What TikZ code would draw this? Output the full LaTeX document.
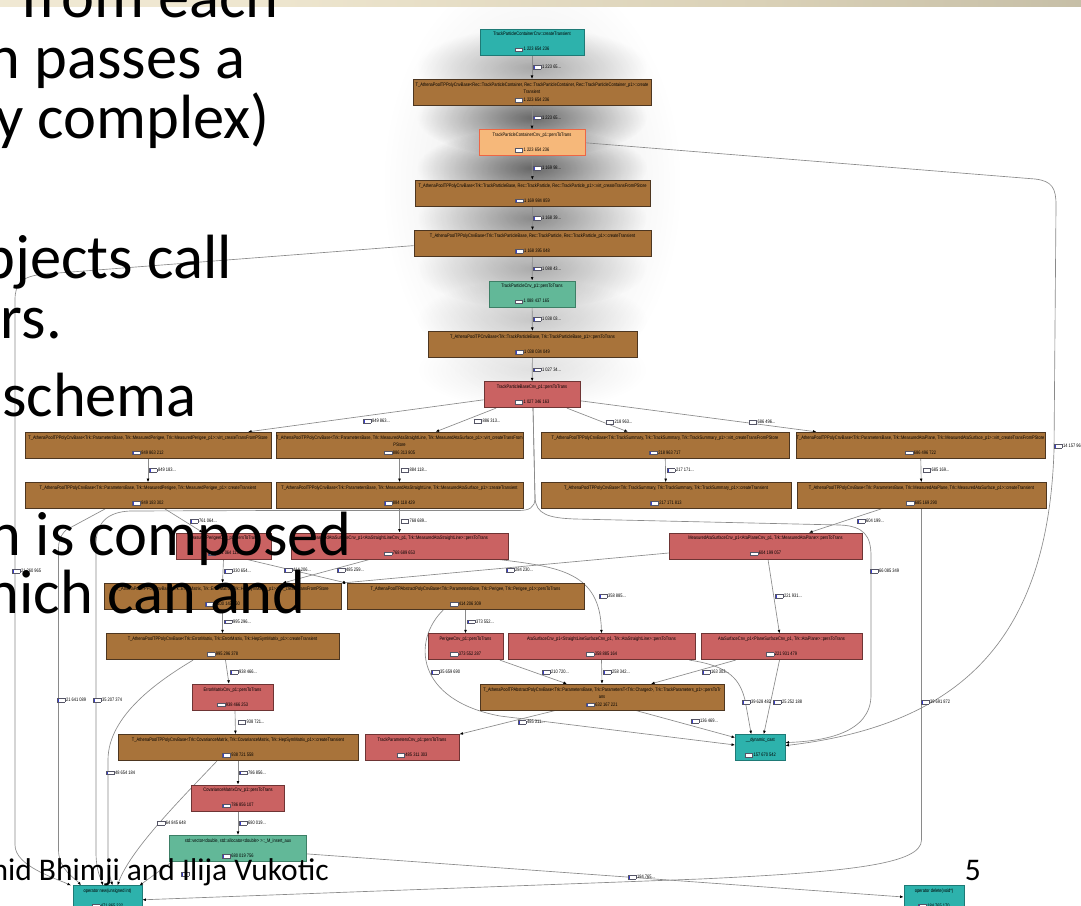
\documentclass[tikz,border=0pt]{standalone}
\usepackage{fontspec}
\setmainfont{Liberation Sans}
\newfontfamily\gf[FakeStretch=0.8]{Liberation Sans}
\newfontfamily\slf{Carlito}
\usetikzlibrary{arrows.meta,fadings}
\definecolor{cTeal}{HTML}{2DB2AC}
\definecolor{cTealD}{HTML}{1E7A76}
\definecolor{cMint}{HTML}{62B898}
\definecolor{cMintD}{HTML}{3D7F66}
\definecolor{cBrown}{HTML}{A8733A}
\definecolor{cBrownD}{HTML}{4D3620}
\definecolor{cRed}{HTML}{CA6262}
\definecolor{cRedD}{HTML}{6E3434}
\definecolor{cOrange}{HTML}{F6B87A}
\definecolor{cOrangeD}{HTML}{EE6644}
\definecolor{cEdge}{HTML}{8A8A8A}
\definecolor{icBlue}{HTML}{3A3FD0}
\definecolor{icB}{HTML}{555566}
\definecolor{bnA}{HTML}{F4EEDD}
\definecolor{bnB}{HTML}{EEE6CF}
\definecolor{bnC}{HTML}{DAD1B7}
\definecolor{bnD}{HTML}{A5A08B}
\pgfdeclarehorizontalshading{banner}{100bp}{color(0bp)=(bnA); color(37bp)=(bnB); color(60bp)=(bnC); color(100bp)=(bnD)}
\tikzfading[name=fz, inner color=transparent!0, outer color=transparent!100]
\pgfdeclarelayer{glow}
\pgfdeclarelayer{edges}
\pgfdeclarelayer{front}
\pgfsetlayers{glow,edges,main,front}
\newcommand\valicon{\raisebox{-0.2pt}{\setlength\fboxsep{0pt}\setlength\fboxrule{0.45pt}\fcolorbox{icB}{white}{\textcolor{icBlue}{\rule{1pt}{3.2pt}}\hspace{6.2pt}}}}
\newcommand\ld{...}
\newcommand\nf{\gf\fontsize{5}{7.5}\selectfont}
\newcommand\lf{\gf\fontsize{5}{6}\selectfont}
\newcommand\nt[2]{\makebox[0pt]{#1}\\[7.5pt]\valicon\,#2}
\newcommand\ntt[3]{\makebox[0pt]{#1}\\\makebox[0pt]{#2}\\\valicon\,#3}
\tikzset{
  gb/.style={rectangle, inner sep=0pt, minimum height=26pt, font=\nf, align=center, line width=0.7pt},
  sTeal/.style={gb, fill=cTeal, draw=cTealD},
  sMint/.style={gb, fill=cMint, draw=cMintD},
  sBrown/.style={gb, fill=cBrown, draw=cBrownD},
  sRed/.style={gb, fill=cRed, draw=cRedD},
  sHl/.style={gb, fill=cOrange, draw=cOrangeD, line width=1pt},
  conn/.style={draw=cEdge, line width=0.65pt, -{Latex[length=3.6pt,width=2.8pt,color=black]}},
  elab/.style={anchor=west, inner sep=0pt, font=\lf},
  slide/.style={anchor=base east, inner sep=0pt, font=\slf\fontsize{62.5}{62.5}\selectfont},
  foot/.style={anchor=base east, inner sep=0pt, font=\slf\fontsize{31.5}{31.5}\selectfont}
}
\begin{document}
\begin{tikzpicture}[x=1pt,y=-1pt]
\useasboundingbox (0,0) rectangle (1081,905);
\begin{pgfonlayer}{glow}
\fill[white] (0,0) rectangle (1081,905);
\fill[black, opacity=0.11, path fading=fz] (532,185) ellipse [x radius=150pt, y radius=220pt];
\foreach \yy/\op in {67.2/0.3, 117.6/0.55, 168/0.55, 218.4/0.4, 268.8/0.28, 319.2/0.18, 369.6/0.1}
  \fill[black, opacity=\op, path fading=fz] (532,\yy) ellipse [x radius=115pt, y radius=40pt];
\end{pgfonlayer}

% nodes
\node[sTeal, minimum width=104pt] (n1) at (532,42) {\nt{TrackParticleContainerCnv::createTransient}{1 223 654 236}};
\node[sBrown, minimum width=238pt] (n2) at (532,92.4) {\ntt{T\_AthenaPoolTPPolyCnvBase<Rec::TrackParticleContainer, Rec::TrackParticleContainer, Rec::TrackParticleContainer\_p1>::create}{Transient}{1 223 654 236}};
\node[sHl, minimum width=106pt] (n3) at (532,142.8) {\nt{TrackParticleContainerCnv\_p1::persToTrans}{1 223 654 236}};
\node[sBrown, minimum width=235pt] (n4) at (532.5,193.2) {\nt{T\_AthenaPoolTPPolyCnvBase<Trk::TrackParticleBase, Rec::TrackParticle, Rec::TrackParticle\_p1>::virt\_createTransFromPStore}{1 169 984 859}};
\node[sBrown, minimum width=237pt] (n5) at (532.5,243.6) {\nt{T\_AthenaPoolTPPolyCnvBase<Trk::TrackParticleBase, Rec::TrackParticle, Rec::TrackParticle\_p1>::createTransient}{1 168 395 048}};
\node[sMint, minimum width=86pt] (n6) at (532,294) {\nt{TrackParticleCnv\_p1::persToTrans}{1 088 437 165}};
\node[sBrown, minimum width=209pt] (n7) at (532.5,344.4) {\nt{T\_AthenaPoolTPCnvBase<Trk::TrackParticleBase, Trk::TrackParticleBase\_p1>::persToTrans}{1 038 034 049}};
\node[sRed, minimum width=96pt] (n8) at (532,394.8) {\nt{TrackParticleBaseCnv\_p1::persToTrans}{1 027 346 163}};

\node[sBrown, minimum width=246pt] (n9) at (148,445.2) {\nt{T\_AthenaPoolTPPolyCnvBase<Trk::ParametersBase, Trk::MeasuredPerigee, Trk::MeasuredPerigee\_p1>::virt\_createTransFromPStore}{849 863 212}};
\node[sBrown, minimum width=247pt] (n10) at (399.5,445.2) {\ntt{T\_AthenaPoolTPPolyCnvBase<Trk::ParametersBase, Trk::MeasuredAtaStraightLine, Trk::MeasuredAtaSurface\_p1>::virt\_createTransFrom}{PStore}{886 313 805}};
\node[sBrown, minimum width=248pt] (n11) at (665,445.2) {\nt{T\_AthenaPoolTPPolyCnvBase<Trk::TrackSummary, Trk::TrackSummary, Trk::TrackSummary\_p1>::virt\_createTransFromPStore}{218 963 717}};
\node[sBrown, minimum width=249pt] (n12) at (920.5,445.2) {\nt{T\_AthenaPoolTPPolyCnvBase<Trk::ParametersBase, Trk::MeasuredAtaPlane, Trk::MeasuredAtaSurface\_p1>::virt\_createTransFromPStore}{686 496 722}};

\node[sBrown, minimum width=246pt] (n13) at (148,495.6) {\nt{T\_AthenaPoolTPPolyCnvBase<Trk::ParametersBase, Trk::MeasuredPerigee, Trk::MeasuredPerigee\_p1>::createTransient}{849 183 302}};
\node[sBrown, minimum width=247pt] (n14) at (399.5,495.6) {\nt{T\_AthenaPoolTPPolyCnvBase<Trk::ParametersBase, Trk::MeasuredAtaStraightLine, Trk::MeasuredAtaSurface\_p1>::createTransient}{884 118 429}};
\node[sBrown, minimum width=250pt] (n15) at (666,495.6) {\nt{T\_AthenaPoolTPPolyCnvBase<Trk::TrackSummary, Trk::TrackSummary, Trk::TrackSummary\_p1>::createTransient}{217 171 813}};
\node[sBrown, minimum width=249pt] (n16) at (921.5,495.6) {\nt{T\_AthenaPoolTPPolyCnvBase<Trk::ParametersBase, Trk::MeasuredAtaPlane, Trk::MeasuredAtaSurface\_p1>::createTransient}{685 169 290}};

\node[sRed, minimum width=95pt] (n17) at (223.5,546) {\nt{MeasuredPerigeeCnv\_p1::persToTrans}{761 064 113}};
\node[sRed, minimum width=217pt] (n18) at (399.5,546) {\nt{MeasuredAtaSurfaceCnv\_p1<AtaStraightLineCnv\_p1, Trk::MeasuredAtaStraightLine>::persToTrans}{768 689 653}};
\node[sRed, minimum width=193pt] (n19) at (765.5,546) {\nt{MeasuredAtaSurfaceCnv\_p1<AtaPlaneCnv\_p1, Trk::MeasuredAtaPlane>::persToTrans}{604 199 057}};

\node[sBrown, minimum width=237pt] (n20) at (222.5,596.4) {\nt{T\_AthenaPoolTPPolyCnvBase<Trk::ErrorMatrix, Trk::ErrorMatrix, Trk::HepSymMatrix\_p1>::virt\_createTransFromPStore}{1 100 143 960}};
\node[sBrown, minimum width=237pt] (n21) at (465.5,596.4) {\nt{T\_AthenaPoolTPAbstractPolyCnvBase<Trk::ParametersBase, Trk::Perigee, Trk::Perigee\_p1>::persToTrans}{414 206 309}};

\node[sBrown, minimum width=233pt] (n22) at (222.5,646.8) {\nt{T\_AthenaPoolTPPolyCnvBase<Trk::ErrorMatrix, Trk::ErrorMatrix, Trk::HepSymMatrix\_p1>::createTransient}{995 296 378}};
\node[sRed, minimum width=75pt] (n23) at (465.5,646.8) {\nt{PerigeeCnv\_p1::persToTrans}{373 552 287}};
\node[sRed, minimum width=187pt] (n24) at (601.5,646.8) {\nt{AtaSurfaceCnv\_p1<StraightLineSurfaceCnv\_p1, Trk::AtaStraightLine>::persToTrans}{358 885 164}};
\node[sRed, minimum width=161pt] (n25) at (781.5,646.8) {\nt{AtaSurfaceCnv\_p1<PlaneSurfaceCnv\_p1, Trk::AtaPlane>::persToTrans}{221 931 479}};

\node[sRed, minimum width=81pt] (n29) at (232.5,697.2) {\nt{ErrorMatrixCnv\_p1::persToTrans}{938 466 253}};
\node[sBrown, minimum width=244pt] (n26) at (602,697.2) {\ntt{T\_AthenaPoolTPAbstractPolyCnvBase<Trk::ParametersBase, Trk::ParametersT<Trk::Charged>, Trk::TrackParameters\_p1>::persToTr}{ans}{632 167 221}};

\node[sBrown, minimum width=240pt] (n30) at (238,747.6) {\nt{T\_AthenaPoolTPPolyCnvBase<Trk::CovarianceMatrix, Trk::CovarianceMatrix, Trk::HepSymMatrix\_p1>::createTransient}{938 721 558}};
\node[sRed, minimum width=94pt] (n28) at (412,747.6) {\nt{TrackParametersCnv\_p1::persToTrans}{485 311 303}};
\node[sTeal, minimum width=49.5pt] (n27) at (760.25,747.6) {\nt{\_\_dynamic\_cast}{157 670 542}};

\node[sRed, minimum width=93.5pt] (n31) at (238,798) {\nt{CovarianceMatrixCnv\_p1::persToTrans}{786 856 107}};
\node[sMint, minimum width=137.5pt] (n32) at (238,848.4) {\nt{std::vector<double, std::allocator<double> >::\_M\_insert\_aux}{680 019 756}};
\node[sTeal, minimum width=69pt] (n33) at (107.5,898.8) {\nt{operator new(unsigned int)}{471 865 232}};
\node[sTeal, minimum width=60pt] (n34) at (934,898.8) {\nt{operator delete(void*)}{184 765 170}};

% edges
\begin{pgfonlayer}{edges}
\draw[conn] (n1) -- (n2);
\draw[conn] (n2) -- (n3);
\draw[conn] (n3) -- (n4);
\draw[conn] (n4) -- (n5);
\draw[conn] (n5) -- (n6);
\draw[conn] (n6) -- (n7);
\draw[conn] (n7) -- (n8);
\draw[conn] ([yshift=-5pt]n8.west) -- ([xshift=100pt]n9.north);
\draw[conn] ([xshift=-36pt]n8.south) -- ([xshift=36pt]n10.north);
\draw[conn] ([xshift=35pt]n8.south) -- ([xshift=-37pt]n11.north);
\draw[conn] ([yshift=-6pt]n8.east) -- ([xshift=-104pt]n12.north);
\draw[conn] (n9) -- (n13);
\draw[conn] (n10) -- (n14);
\draw[conn] (n11) -- (n15);
\draw[conn] (n12) -- (n16);
\draw[conn] ([xshift=17pt]n13.south) -- ([xshift=-20.5pt]n17.north);
\draw[conn] (n14) -- (n18);
\draw[conn] ([xshift=-40.5pt]n16.south) -- ([xshift=43.5pt]n19.north);
\draw[conn] (n17.south) -- (n20.north);
\draw[conn] ([xshift=23pt]n17.south) -- (n21.north west);
\draw[conn] ([xshift=-29.5pt]n18.south) -- ([xshift=60pt]n20.north);
\draw[conn] ([yshift=-7pt]n19.west) -- (n20.north east);
\draw[conn] ([xshift=98pt]n18.south) .. controls (560,567) and (600,572) .. (n24.north);
\draw[conn] ([xshift=2.5pt]n19.south) -- ([xshift=-2pt]n25.north);
\draw[conn] (n20) -- (n22);
\draw[conn] (n21) -- (n23);
\draw[conn] ([xshift=-22pt]n21.south) .. controls (412,640) and (415,700) .. (500,716) -- ([yshift=2.6pt]n27.west);
\draw[conn] ([xshift=34.5pt]n23.south) -- ([xshift=-35pt]n26.north);
\draw[conn] (n24.south) -- (n26.north);
\draw[conn] ([xshift=-46pt]n25.south) -- ([xshift=49pt]n26.north);
\draw[conn] ([xshift=88pt]n24.south) .. controls (730,666) and (740,680) .. (745,700) -- ([xshift=-9pt]n27.north);
\draw[conn] ([xshift=-2pt]n25.south) -- ([xshift=3.5pt]n27.north);
\draw[conn] ([xshift=-47pt]n26.south) -- (n28.north east);
\draw[conn] ([xshift=34pt]n26.south) -- ([yshift=10pt]n27.west);
\draw[conn] ([xshift=3pt]n22.south) -- ([xshift=-3.5pt]n29.north);
\draw[conn] ([xshift=2.5pt]n29.south) -- ([xshift=-2.5pt]n30.north);
\draw[conn] (n30) -- (n31);
\draw[conn] (n31) -- (n32);
% long edges
\draw[conn] ([yshift=-2pt]n5.west) -- (45,274) .. controls (22,276) and (15,283) .. (15,300) -- (15,845) .. controls (15,866) and (55,878) .. ([xshift=-36.5pt]n33.north);
\draw[conn] ([xshift=-43pt]n13.south) -- (66,530) .. controls (60,536) and (58.5,541) .. (58.5,550) -- (58.5,850) .. controls (58.5,870) and (76,879) .. ([xshift=-26.5pt]n33.north);
\draw[conn] ([xshift=1pt]n8.south) -- (535,498) .. controls (535,508) and (529,510.5) .. (518,510.5) -- (275,510.5) -- (130,511) .. controls (108,512) and (96,522) .. (96,545) -- (96,852) .. controls (96,871) and (101,879) .. ([xshift=-4.5pt]n33.north);
\draw[conn] ([xshift=1pt]n8.south) -- (535,498) .. controls (536,514) and (548,518) .. (575,519) -- (840,525) .. controls (864,526) and (871,536) .. (871,556) -- (871,695) .. controls (871,733) and (825,741) .. ([yshift=5pt]n27.east);
\draw[conn] ([xshift=-29.5pt]n22.south) .. controls (160,680) and (108,715) .. (108,760) -- (108,858) .. controls (108,872) and (111,880) .. ([xshift=5pt]n33.north);
\draw[conn] ([xshift=-21pt]n30.south) .. controls (180,800) and (130,850) .. ([xshift=10pt]n33.north);
\draw[conn] ([xshift=-66pt]n32.south) -- ([xshift=32pt]n33.north);
\draw[conn] (n16.south) -- (921.5,840) .. controls (921.5,864) and (850,872) .. (700,879) -- ([yshift=-1pt]n33.east);
\draw[conn] ([yshift=-5.5pt]n32.east) -- ([yshift=1.8pt]n34.west);
\draw[conn] (n3.east) -- (1035,179) .. controls (1052,181) and (1056,188) .. (1056,205) -- (1054,450) .. controls (1048,640) and (960,725) .. ([yshift=2pt]n27.east);
\end{pgfonlayer}

% edge labels
\foreach \i/\lx/\ly/\lt in {
 1/533/67.2/1 223 65\ld, 2/533/117.6/1 223 65\ld, 3/533/168/1 169 98\ld, 4/533/218.4/1 168 39\ld,
 5/533/268.8/1 088 43\ld, 6/533/319.2/1 038 03\ld, 7/533/369.6/1 027 34\ld,
 8/363/421/849 863\ld, 9/473.5/421/886 313\ld, 10/605.5/422/218 963\ld, 11/748.5/422/686 496\ld,
 12/1054/446/14 157 96, 13/149/470.4/849 183\ld, 14/400.5/470.4/884 118\ld, 15/667/470.4/217 171\ld,
 16/922.5/470.4/685 169\ld, 17/190/521/761 064\ld, 18/400.5/521/768 689\ld, 19/857/521/604 199\ld,
 20/12/571.2/21 260 965, 21/224/571.2/330 654\ld, 22/284/570/414 206\ld, 23/337/570/485 259\ld,
 24/506/570/284 230\ld, 25/870/571.2/66 085 349, 26/599/596/358 885\ld, 27/775/596/221 931\ld,
 28/224/621.6/995 296\ld, 29/467/621.6/373 552\ld, 30/431/672/35 659 690, 31/230/672/938 466\ld,
 32/542/672/210 720\ld, 33/603/672/258 342\ld, 34/702/672/163 303\ld, 35/57/700/21 641 089,
 36/93/700/35 207 374, 37/742/702/39 628 482, 38/773/702/25 252 188, 39/921/702/39 691 872,
 40/237.5/722.4/938 721\ld, 41/518/722.4/485 311\ld, 42/691/721/136 469\ld, 43/106/772.8/48 654 184,
 44/239/772.8/786 856\ld, 45/156.7/823.2/64 845 648, 46/239/823.2/680 019\ld, 47/628/877/184 765\ld}
 \node[elab] (lab\i) at (\lx,\ly) {\valicon\,\lt};
\node[elab] (lab48) at (181,874) {\valicon};

% slide layer
\begin{pgfonlayer}{front}
\shade[shading=banner] (0,0) rectangle (1081,6.5);
\node[slide] (t1) at (279,17) {from each};
\node[slide] (t2) at (246,78.3) {n passes a};
\node[slide] (t3) at (270,138.3) {y complex)};
\node[slide] (t4) at (232,278.3) {bjects call};
\node[slide] (t5) at (62,338.3) {rs.};
\node[slide] (t6) at (197,416.5) {schema};
\node[slide] (t7) at (352,555) {n is composed};
\node[slide] (t8) at (306,613) {hich can and};
\node[foot] (t9) at (329,880) {hid Bhimji and Ilija Vukotic};
\node[foot] (t10) at (981,880) {5};
\end{pgfonlayer}
\end{tikzpicture}
\end{document}
